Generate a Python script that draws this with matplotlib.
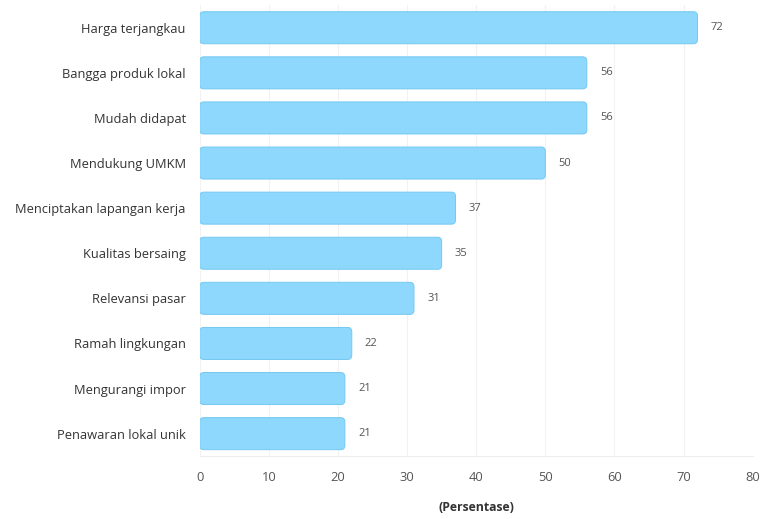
import matplotlib
matplotlib.use('Agg')
import matplotlib.pyplot as plt
from matplotlib.patches import FancyBboxPatch

categories = ['Harga terjangkau', 'Bangga produk lokal', 'Mudah didapat', 'Mendukung UMKM',
              'Menciptakan lapangan kerja', 'Kualitas bersaing', 'Relevansi pasar',
              'Ramah lingkungan', 'Mengurangi impor', 'Penawaran lokal unik']
values = [72, 56, 56, 50, 37, 35, 31, 22, 21, 21]
x_ticks = [0, 10, 20, 30, 40, 50, 60, 70, 80]

plt.rcParams['font.family'] = ['Open Sans', 'DejaVu Sans']

fig = plt.figure(figsize=(7.65, 5.19), dpi=100)
ax = fig.add_axes([0.261, 0.121, 0.723, 0.869])

bars = ax.barh(range(len(categories)), values, height=0.71, color='none')
# ganti bar biasa dengan bar sudut membulat
for b in bars:
    x, y = b.get_x(), b.get_y()
    w, h = b.get_width(), b.get_height()
    p = FancyBboxPatch((x, y), w, h, boxstyle='round,pad=0,rounding_size=0.6',
                       mutation_aspect=0.154, facecolor='#8dd8fc', edgecolor='#74c8f2',
                       linewidth=0.7, zorder=3)
    ax.add_patch(p)
    ax.text(w + 1.9, y + h / 2, str(int(w)), va='center', ha='left',
            fontsize=8, color='#555555')

ax.set_xlim(0, 80)
ax.set_ylim(len(categories) - 0.5, -0.5)
ax.set_yticks(range(len(categories)))
ax.set_yticklabels(categories, fontsize=9.3, color='#333333')
ax.set_xticks(x_ticks)
ax.set_xticklabels([str(t) for t in x_ticks], fontsize=9.3, color='#555555')
ax.tick_params(axis='both', length=0)
ax.tick_params(axis='y', pad=10)
ax.tick_params(axis='x', pad=11)

ax.grid(axis='x', color='#f2f2f2', linewidth=0.8, zorder=0)
for s in ['top', 'right', 'left']:
    ax.spines[s].set_visible(False)
ax.spines['bottom'].set_color('#eeeeee')

ax.set_xlabel('(Persentase)', fontsize=8.8, fontweight='bold', color='#333333', labelpad=12)

fig.savefig('out.png', dpi=100)
